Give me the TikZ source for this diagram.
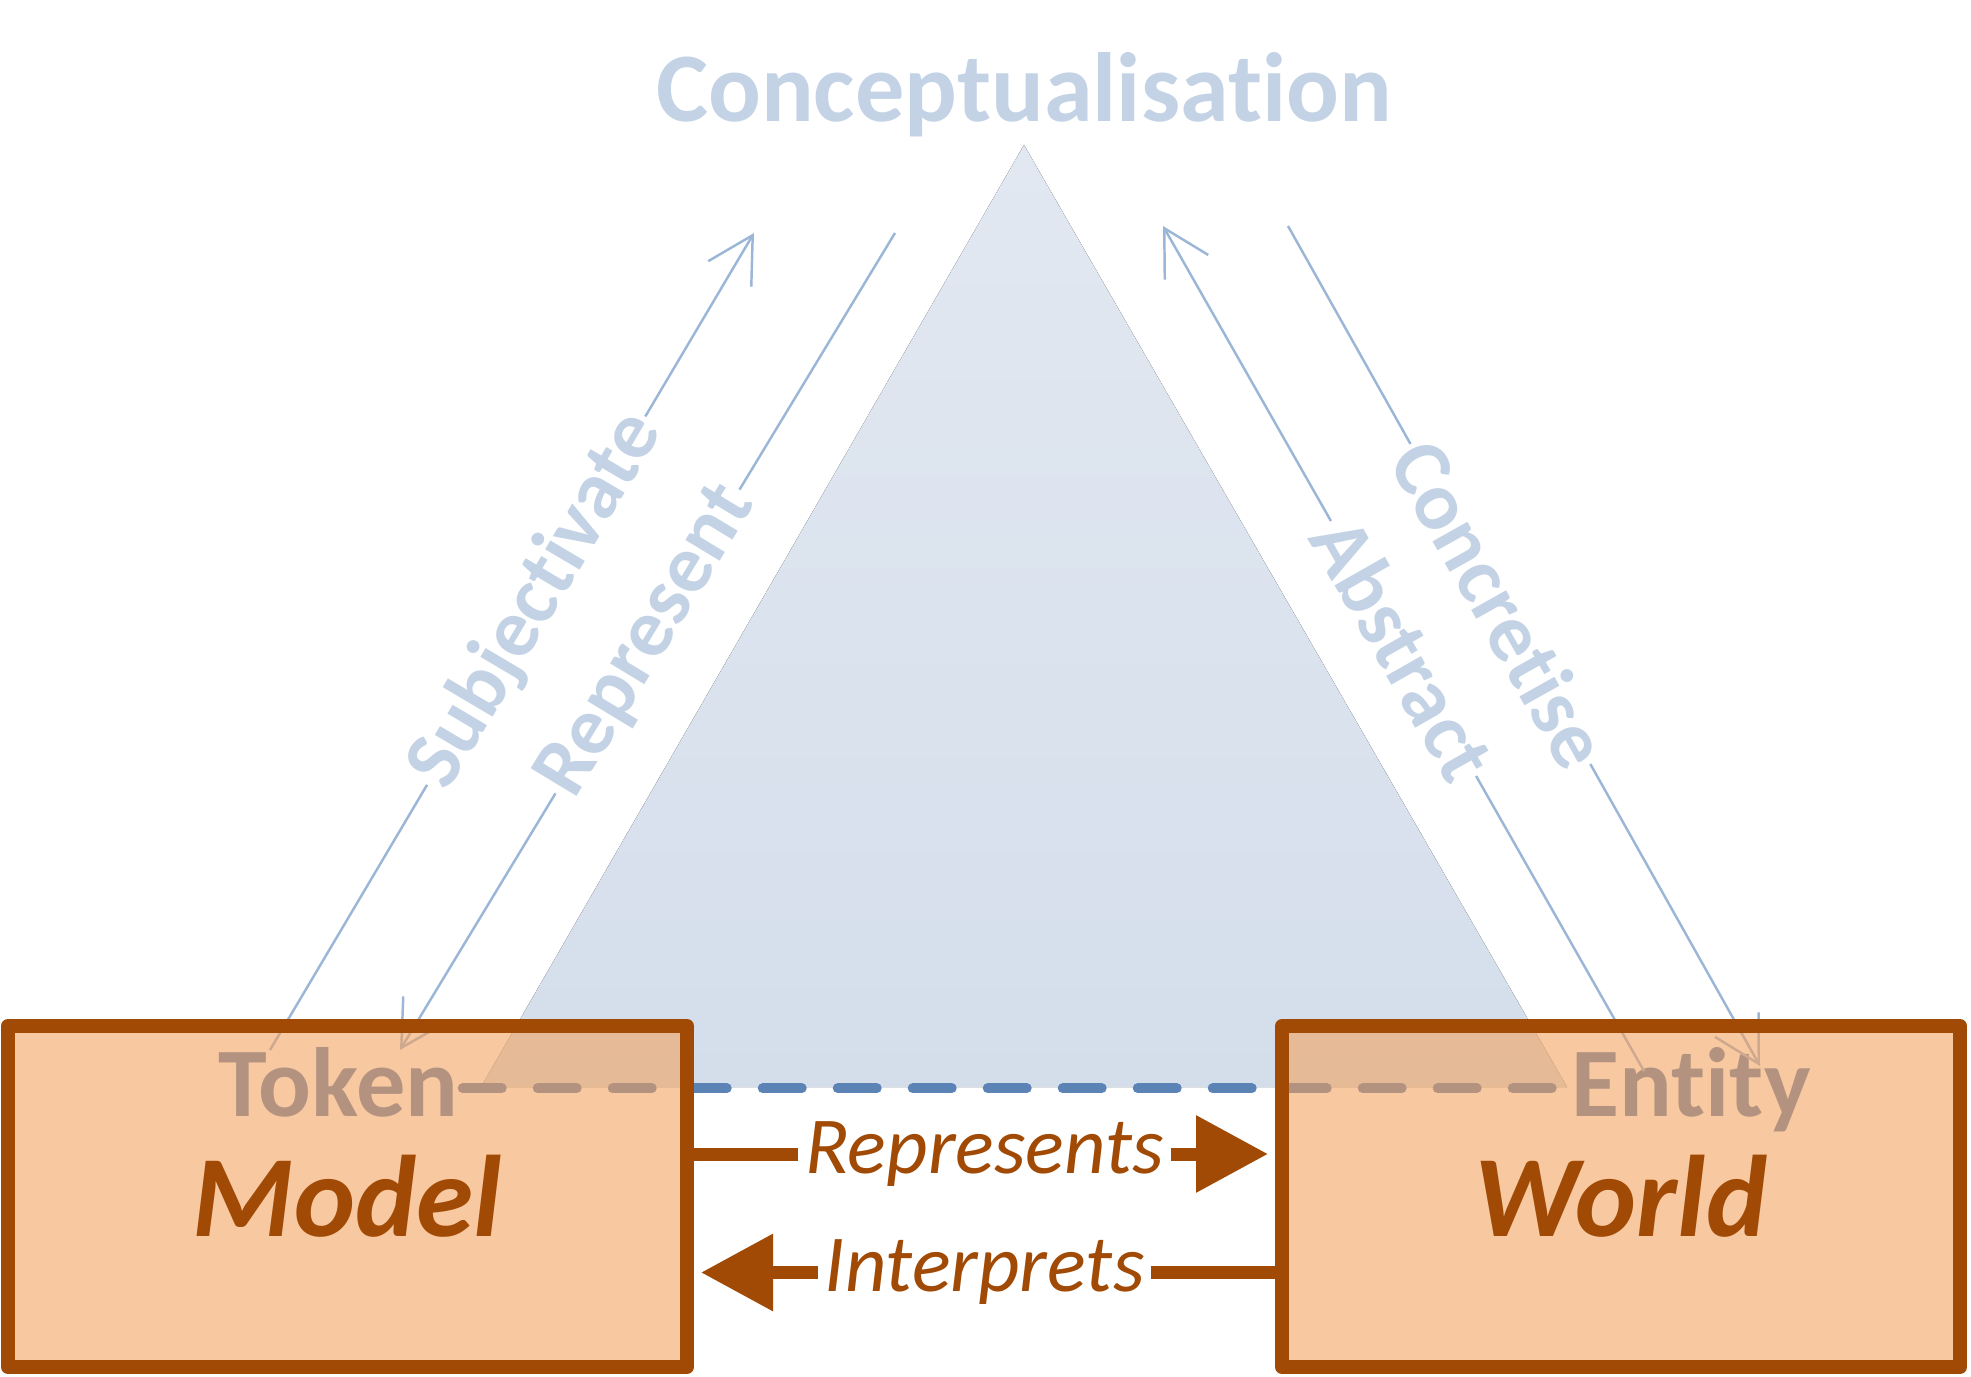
\documentclass[tikz,border=0pt]{standalone}
\usepackage{fontspec}
\setmainfont{Carlito}[Ligatures=NoCommon]
\usetikzlibrary{arrows.meta, positioning, backgrounds}
\definecolor{boxline}{RGB}{160,74,5}
\definecolor{boxfill}{RGB}{243,160,91}
\definecolor{tritop}{RGB}{226,232,241}
\definecolor{tribottom}{RGB}{212,222,235}
\definecolor{concept}{RGB}{195,211,229}
\definecolor{thinline}{RGB}{155,182,215}
\definecolor{dashblue}{RGB}{91,131,181}

\begin{document}
\begin{tikzpicture}[
  box/.style={rectangle, draw=boxline, line width=0.14cm, line join=round, fill=boxfill, fill opacity=0.58, text opacity=1, minimum width=6.79cm, minimum height=3.41cm, text=boxline, font=\fontsize{33}{39}\selectfont\bfseries\itshape},
  tag/.style={text=dashblue, inner sep=1pt, font=\fontsize{28}{34}\selectfont\bfseries},
  relation/.style={draw=boxline, line width=0.13cm, -{Triangle[length=0.72cm, width=0.74cm]}, shorten >=0.07cm},
  rellabel/.style={fill=white, text=boxline, inner sep=2pt, font=\fontsize{23}{28}\selectfont\itshape},
  flow/.style={draw=thinline, line width=0.7pt, -{Straight Barb[length=0.45cm, width=0.5cm]}},
  flowlabel/.style={sloped, fill=white, text=concept, inner sep=1pt, font=\fontsize{23.5}{28}\selectfont\bfseries}
]
  \useasboundingbox (0,0) rectangle (19.71,13.76);

  % Boxes
  \node[box] (model) at (3.475,1.795) {Model};
  \node[box, minimum width=6.78cm] (world) at (16.21,1.795) {World};

  % Relations between the boxes
  \draw[relation] ([yshift=0.425cm]model.east) -- node[rellabel] {Represents} ([yshift=0.425cm]world.west);
  \draw[relation] ([yshift=-0.76cm]world.west) -- node[rellabel] {Interprets} ([yshift=-0.76cm]model.east);

  \begin{scope}[on background layer]
    % Triangle
    \coordinate (apex) at (10.24,12.31);
    \coordinate (baseL) at (4.81,2.89);
    \coordinate (baseR) at (15.67,2.89);
    \fill[top color=tritop, bottom color=tribottom] (apex) -- (baseR) -- (baseL) -- cycle;
    \node[anchor=base, text=concept, font=\fontsize{28}{34}\selectfont\bfseries] (concept) at (10.24,12.54) {Conceptualisation};

    % Token and entity
    \node[tag, above=0.8cm of model.center, anchor=base, xshift=-0.09cm] (token) {Token};
    \node[tag, above=0.8cm of world.center, anchor=base, xshift=0.70cm] (entity) {Entity};
    \draw[dashblue, line width=0.1cm, line cap=round, dash pattern=on 0.39cm off 0.36cm] ([yshift=-0.06cm]token.east) -- ([yshift=-0.06cm]token.east -| entity.west);

    % Thin arrows
    \coordinate (subj from) at (2.70,3.26);
    \coordinate (subj to) at (7.54,11.43);
    \coordinate (repr from) at (8.95,11.43);
    \coordinate (repr to) at (4.00,3.26);
    \coordinate (abst from) at (16.44,3.05);
    \coordinate (abst to) at (11.63,11.50);
    \coordinate (conc from) at (12.88,11.50);
    \coordinate (conc to) at (17.60,3.10);
    \draw[flow] (subj from) -- node[flowlabel, pos=0.55] {Subjectivate} (subj to);
    \draw[flow] (repr from) -- node[flowlabel, pos=0.5] {Represent} (repr to);
    \draw[flow] (abst from) -- node[flowlabel, pos=0.5] {Abstract} (abst to);
    \draw[flow] (conc from) -- node[flowlabel, pos=0.45] {Concretise} (conc to);
  \end{scope}
\end{tikzpicture}
\end{document}
